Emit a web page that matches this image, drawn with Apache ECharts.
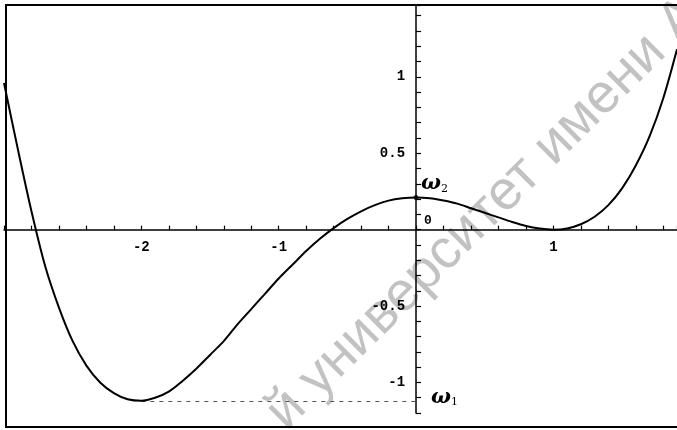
<!DOCTYPE html>
<html><head><meta charset="utf-8">
<script src="https://cdn.jsdelivr.net/npm/echarts@6/dist/echarts.min.js"></script>
<style>html,body{margin:0;padding:0;background:#fff;}#c{width:677px;height:430px;}</style>
</head><body><div id="c"></div>
<script>
// Curve samples
const xs = [-3.0,-2.9,-2.8,-2.7,-2.6,-2.5,-2.4,-2.3,-2.2,-2.1,-2.0,-1.9,-1.8,-1.7,-1.6,-1.5,-1.4,-1.3,-1.2,-1.1,-1.0,-0.9,-0.8,-0.7,-0.6,-0.5,-0.4,-0.3,-0.2,-0.1,0.0,0.1,0.2,0.3,0.4,0.5,0.6,0.7,0.8,0.9,1.0,1.1,1.2,1.3,1.4,1.5,1.6,1.7,1.8,1.9];
const ys = [0.96,0.53,0.12,-0.24,-0.51,-0.73,-0.89,-1.00,-1.07,-1.11,-1.12,-1.10,-1.06,-0.99,-0.91,-0.82,-0.73,-0.62,-0.52,-0.42,-0.32,-0.23,-0.14,-0.06,0.01,0.07,0.12,0.16,0.19,0.205,0.21,0.205,0.19,0.17,0.14,0.11,0.08,0.05,0.024,0.007,0.0,0.008,0.035,0.084,0.16,0.27,0.42,0.61,0.86,1.18];
const omega2 = 0.21;   // local max at x = 0
const omega1 = -1.12;  // global min level
const omega1X = -2.0;
const xTickLabels = ['-2','-1','1'];
const yTickLabels = ['-1','-0.5','0.5','1'];
const watermarkA = 'й университет';
const watermarkB = 'имени А.А.';

const chart = echarts.init(document.getElementById('c'), null, {renderer:'canvas'});
chart.setOption({
  animation:false,
  backgroundColor:'#fff',
  grid:{left:4, right:0, top:5, bottom:17, show:false, containLabel:false, outerBoundsMode:'none'},
  xAxis:{type:'value', min:-3, max:1.9, interval:0.2,
    axisLine:{onZero:true, lineStyle:{color:'#000', width:1.5}},
    axisTick:{inside:true, length:4, lineStyle:{color:'#000', width:1.2}},
    splitLine:{show:false}, axisLabel:{show:false}
  },
  yAxis:{type:'value', min:-1.2, max:1.47, interval:0.1,
    axisLine:{onZero:true, lineStyle:{color:'#000', width:1.5}},
    axisTick:{inside:true, length:5, lineStyle:{color:'#000', width:1.2}},
    splitLine:{show:false}, axisLabel:{show:false}
  },
  series:[
    {type:'line', data:xs.map((x,i)=>[x,ys[i]]), smooth:0.3, symbol:'none', z:5,
     lineStyle:{color:'#000', width:2},
     markLine:{silent:true, symbol:'none', label:{show:false},
       lineStyle:{color:'#555', type:[4,5], width:1.2},
       data:[[{coord:[omega1X, omega1]},{coord:[0, omega1]}]]}},
    {type:'scatter', data:[[0, omega2]], symbolSize:5, itemStyle:{color:'#000'}, z:6}
  ]
});

const toPx = (x,y)=>chart.convertToPixel({gridIndex:0},[x,y]);
const p2 = toPx(0, omega2), p1 = toPx(0, omega1), p0 = toPx(0, 0);
const tickFont = 'bold 14px "Liberation Mono"';
const omegaRich = {
  w:{fontFamily:'DejaVu Serif', fontStyle:'italic', fontWeight:'bold', fontSize:21, color:'#000'},
  s:{fontFamily:'DejaVu Serif', fontSize:11, color:'#000', padding:[10,0,0,0]}
};
const ang = 0.78, wmFont = '55px "Liberation Sans"', wmColor = '#c2c2c2';
const ax = 543, ay = 156;
const g = [
  {type:'text', z:-10, x:ax, y:ay, rotation:ang,
   style:{text:watermarkB, font:wmFont, fill:wmColor, align:'left', verticalAlign:'middle'}},
  {type:'text', z:-10, x:ax-15*Math.cos(ang), y:ay+15*Math.sin(ang), rotation:ang,
   style:{text:watermarkA, font:wmFont, fill:wmColor, align:'right', verticalAlign:'middle'}},
  {type:'rect', z:10, shape:{x:6, y:5, width:700, height:422},
   style:{fill:null, stroke:'#000', lineWidth:2}},
  {type:'text', z:10, x:p0[0]+8, y:p0[1]-15,
   style:{text:'0', font:'bold 13px "Liberation Mono"', fill:'#000'}},
  {type:'text', z:10, x:p2[0]+5, y:p2[1]-24,
   style:{text:'{w|ω}{s|2}', rich:omegaRich}},
  {type:'text', z:10, x:p1[0]+15, y:p1[1]-14,
   style:{text:'{w|ω}{s|1}', rich:omegaRich}}
];
xTickLabels.forEach(t=>{ const p = toPx(parseFloat(t),0);
  g.push({type:'text', z:10, x:p[0], y:p[1]+18,
    style:{text:t, font:tickFont, fill:'#000', align:'center', verticalAlign:'middle'}}); });
yTickLabels.forEach(t=>{ const p = toPx(0,parseFloat(t));
  g.push({type:'text', z:10, x:p[0]-11, y:p[1],
    style:{text:t, font:tickFont, fill:'#000', align:'right', verticalAlign:'middle'}}); });
chart.setOption({graphic:g});
</script></body></html>
